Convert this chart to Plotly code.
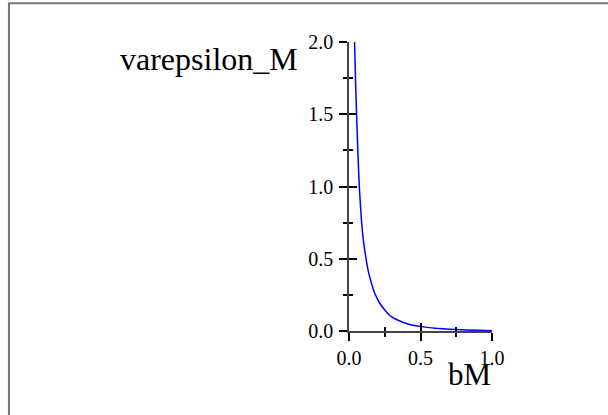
import plotly.graph_objects as go

# Data
bM = [0.039, 0.046, 0.053, 0.062, 0.072, 0.086, 0.098, 0.110, 0.133, 0.157,
      0.180, 0.215, 0.250, 0.297, 0.367, 0.437, 0.500, 0.600, 0.750, 0.900, 1.000]
varepsilon_M = [2.00, 1.72, 1.50, 1.24, 1.00, 0.78, 0.65, 0.56, 0.423, 0.33,
                0.261, 0.192, 0.146, 0.099, 0.064, 0.042, 0.032, 0.019, 0.010, 0.005, 0.002]

x_title = "bM"
y_title = "varepsilon_M"
x_range = [0, 1]
y_range = [0, 2]

FONT = "Liberation Serif"

fig = go.Figure()
fig.add_trace(go.Scatter(x=bM, y=varepsilon_M, mode="lines",
                         line=dict(color="#0000FF", width=1.5, shape="spline", smoothing=0.5),
                         showlegend=False, hoverinfo="skip"))
fig.add_trace(go.Scatter(x=[], y=[], xaxis="x2", yaxis="y2", showlegend=False))

axis_common = dict(showgrid=False, zeroline=False, showline=True, linecolor="#444444",
                   linewidth=1.5, tickcolor="black", tickwidth=1.5, ticklen=8, dtick=0.5,
                   tickformat=".1f", tickfont=dict(family=FONT, size=20, color="black"))
axis_plain = {k: v for k, v in axis_common.items() if k not in ("tickformat", "tickfont")}

fig.update_layout(
    width=608, height=415,
    margin=dict(l=349, r=116, t=42, b=84),
    paper_bgcolor="white", plot_bgcolor="white",
    xaxis=dict(range=x_range, ticks="outside", tick0=0,
               minor=dict(dtick=0.25, ticks="outside", ticklen=4, tickcolor="black", tickwidth=1.5),
               **axis_common),
    yaxis=dict(range=y_range, ticks="outside", tick0=0, ticklabelstandoff=2,
               minor=dict(dtick=0.25, ticks="outside", ticklen=4, tickcolor="black", tickwidth=1.5),
               **axis_common),
    xaxis2=dict(range=x_range, overlaying="x", anchor="y2", ticks="inside", tick0=0,
                showticklabels=False,
                minor=dict(dtick=0.25, ticks="inside", ticklen=4, tickcolor="black", tickwidth=1.5),
                **axis_plain),
    yaxis2=dict(range=y_range, overlaying="y", anchor="x2", ticks="inside", tick0=0,
                showticklabels=False,
                minor=dict(dtick=0.25, ticks="inside", ticklen=4, tickcolor="black", tickwidth=1.5),
                **axis_plain),
    annotations=[
        dict(text=y_title, xref="paper", yref="paper", x=-0.345, y=0.94,
             xanchor="right", yanchor="middle", showarrow=False,
             font=dict(family=FONT, size=32, color="black")),
        dict(text=x_title, xref="paper", yref="paper", x=1.01, y=-0.149,
             xanchor="right", yanchor="middle", showarrow=False,
             font=dict(family=FONT, size=31, color="black")),
    ],
    shapes=[
        dict(type="rect", xref="paper", yref="paper", x0=-2.378, x1=1.9, y0=-0.35, y1=1.134,
             line=dict(color="#777777", width=2), layer="below"),
    ],
)

fig.write_html("out.html", config={"displayModeBar": False},
               post_script="document.body.style.margin='0';document.body.style.overflow='hidden';")
